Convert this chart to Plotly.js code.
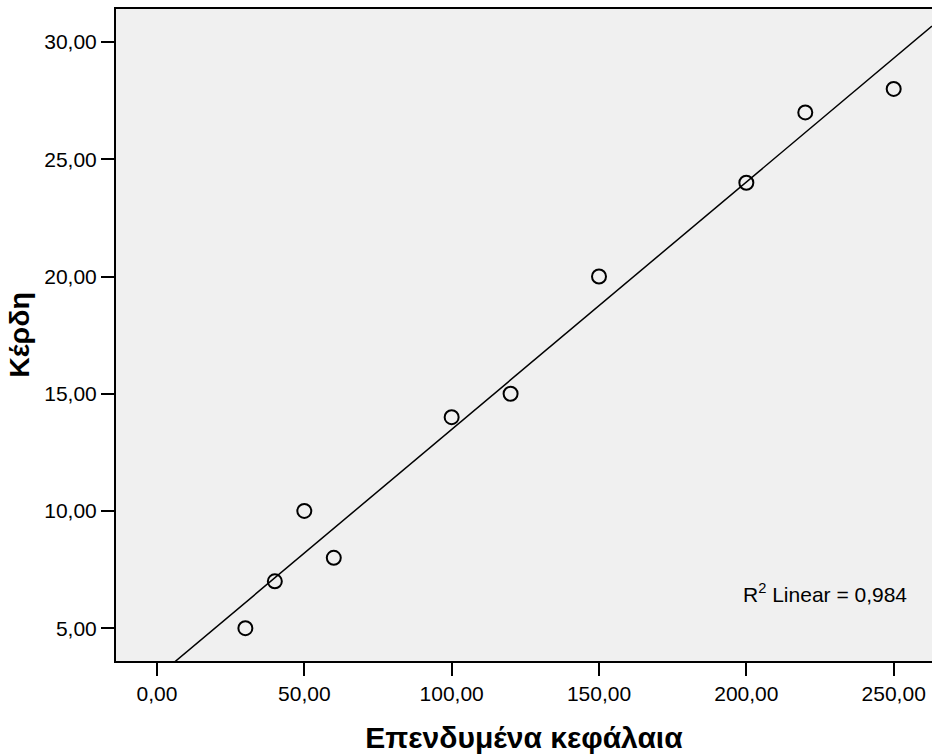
<!DOCTYPE html>
<html>
<head>
<meta charset="utf-8">
<script src="https://cdn.plot.ly/plotly-3.0.1.min.js"></script>
<style>
  html, body { margin: 0; padding: 0; background: #ffffff; }
  #chart { width: 932px; height: 754px; }
</style>
</head>
<body>
<div id="chart"></div>
<script>
// Invested capital (x) versus profit (y)
const capital = [30, 40, 50, 60, 100, 120, 150, 200, 220, 250];
const profit  = [5, 7, 10, 8, 14, 15, 20, 24, 27, 28];

const xTicks = [0, 50, 100, 150, 200, 250];
const yTicks = [5, 10, 15, 20, 25, 30];

const xRange = [-13.9, 263.0];
const yRange = [3.6, 31.41];

// Ordinary least-squares fit of profit on capital
function linearFit(xs, ys) {
  const n = xs.length;
  const mx = xs.reduce((a, b) => a + b, 0) / n;
  const my = ys.reduce((a, b) => a + b, 0) / n;
  let sxy = 0, sxx = 0, syy = 0;
  for (let i = 0; i < n; i++) {
    const dx = xs[i] - mx, dy = ys[i] - my;
    sxy += dx * dy; sxx += dx * dx; syy += dy * dy;
  }
  const slope = sxy / sxx;
  return { slope, intercept: my - slope * mx, r2: (sxy * sxy) / (sxx * syy) };
}

const fit = linearFit(capital, profit);
const fitX = [xRange[0], xRange[1]];
const fitY = fitX.map(x => fit.intercept + fit.slope * x);

const font = 'Arial, "Liberation Sans", sans-serif';

const traces = [
  {
    x: fitX, y: fitY,
    type: 'scatter', mode: 'lines',
    line: { color: '#000000', width: 1.5 },
    hoverinfo: 'skip', showlegend: false
  },
  {
    x: capital, y: profit,
    type: 'scatter', mode: 'markers',
    marker: { symbol: 'circle-open', size: 14, color: '#000000', line: { width: 2, color: '#000000' } },
    showlegend: false
  }
];

const plotW = 932 - 116, plotH = 754 - 9 - 93;

const layout = {
  width: 932, height: 754,
  margin: { l: 116, r: 0, t: 9, b: 93 },
  paper_bgcolor: '#ffffff',
  plot_bgcolor: '#f0f0f0',
  separators: ',.',
  font: { family: font, color: '#000000', size: 21 },
  showlegend: false,
  xaxis: {
    range: xRange,
    tickvals: xTicks,
    tickformat: '.2f',
    ticks: 'outside', ticklen: 13, tickwidth: 2, tickcolor: '#000000',
    showgrid: false, zeroline: false,
    showline: true, linecolor: '#000000', linewidth: 2, mirror: true,
    tickfont: { size: 21, family: font },
    title: { text: '<b>Επενδυμένα κεφάλαια</b>', font: { size: 30, family: font }, standoff: 23 }
  },
  yaxis: {
    range: yRange,
    tickvals: yTicks,
    tickformat: '.2f',
    ticks: 'outside', ticklen: 13, tickwidth: 2, tickcolor: '#000000',
    showgrid: false, zeroline: false,
    showline: true, linecolor: '#000000', linewidth: 2,
    tickfont: { size: 21, family: font },
    title: { text: '<b>Κέρδη</b>', font: { size: 28.5, family: font }, standoff: 6 }
  },
  annotations: [
    {
      // R² note, placed in the lower-right corner of the plot area
      x: (909 - 116) / plotW, y: (754 - 93 - 593) / plotH,
      xref: 'paper', yref: 'paper',
      text: 'R<sup>2</sup> Linear = ' + fit.r2.toFixed(3).replace('.', ','),
      showarrow: false, xanchor: 'right', yanchor: 'middle',
      font: { size: 21, family: font, color: '#000000' }
    }
  ]
};

Plotly.newPlot('chart', traces, layout, { displayModeBar: false, staticPlot: true });
</script>
</body>
</html>
